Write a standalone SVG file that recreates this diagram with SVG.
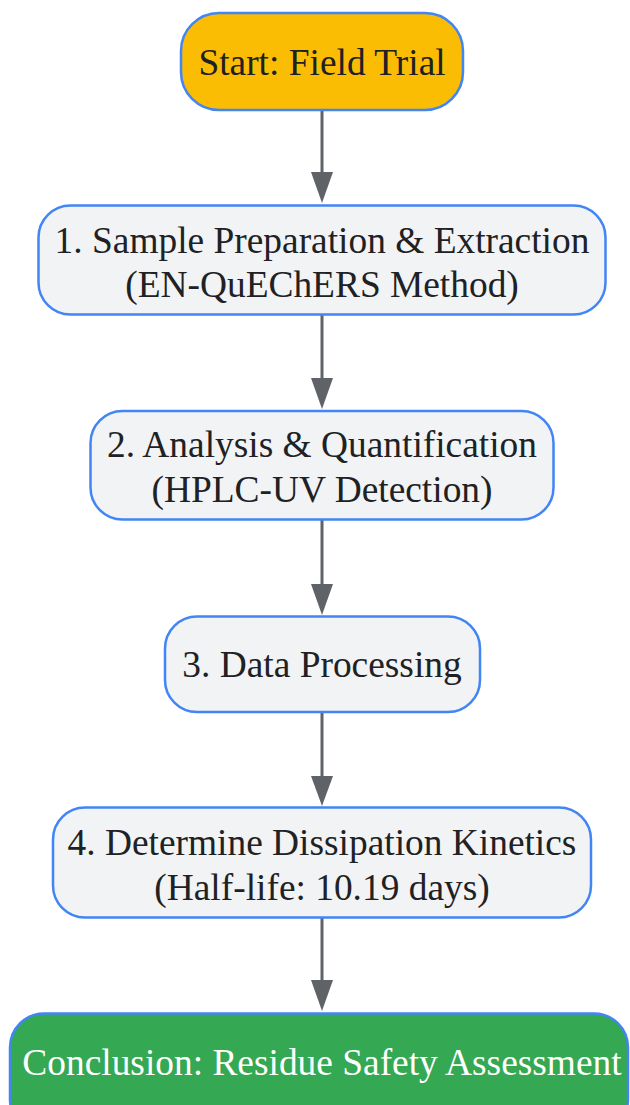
<svg xmlns="http://www.w3.org/2000/svg" width="630" height="1105" viewBox="0 0 630 1105">
<style>
.node rect{stroke:#4285f4;stroke-width:2.5}
.proc rect{fill:#f1f3f4}
.t{font-family:"Liberation Serif","Times New Roman",serif;font-size:37.4px;fill:#202124;text-anchor:middle}
.w{fill:#ffffff}
.edge{stroke:#5f6368;stroke-width:3;fill:none}
.head{fill:#5f6368}
</style>
<rect width="630" height="1105" fill="#ffffff"/>
<g id="connectors">
<line class="edge" x1="322" y1="110" x2="322" y2="174"/>
<path class="head" d="M311,172 L333,172 L322,203 Z"/>
<line class="edge" x1="322" y1="315" x2="322" y2="380"/>
<path class="head" d="M311,378 L333,378 L322,409 Z"/>
<line class="edge" x1="322" y1="520" x2="322" y2="586"/>
<path class="head" d="M311,584 L333,584 L322,615 Z"/>
<line class="edge" x1="322" y1="712" x2="322" y2="778"/>
<path class="head" d="M311,776 L333,776 L322,806 Z"/>
<line class="edge" x1="322" y1="918" x2="322" y2="982"/>
<path class="head" d="M311,980 L333,980 L322,1011 Z"/>
</g>
<g id="start" class="node">
<rect x="181" y="13" width="282" height="97" rx="38" fill="#fbbc04"/>
<text class="t" x="322" y="75">Start: Field Trial</text>
</g>
<g id="step1" class="node proc">
<rect x="38.5" y="205.5" width="567" height="109" rx="32"/>
<text class="t" x="322" y="253">1. Sample Preparation &amp; Extraction</text>
<text class="t" x="322" y="297">(EN-QuEChERS Method)</text>
</g>
<g id="step2" class="node proc">
<rect x="90.5" y="411" width="463" height="108.5" rx="32"/>
<text class="t" x="322" y="457">2. Analysis &amp; Quantification</text>
<text class="t" x="322" y="502">(HPLC-UV Detection)</text>
</g>
<g id="step3" class="node proc">
<rect x="165" y="616.5" width="315" height="95.5" rx="32"/>
<text class="t" x="322" y="677">3. Data Processing</text>
</g>
<g id="step4" class="node proc">
<rect x="53" y="807.5" width="538" height="110" rx="32"/>
<text class="t" x="322" y="855">4. Determine Dissipation Kinetics</text>
<text class="t" x="322" y="900">(Half-life: 10.19 days)</text>
</g>
<g id="conclusion" class="node">
<rect x="10" y="1013.5" width="618" height="120" rx="34" fill="#34a853"/>
<text class="t w" x="322" y="1075">Conclusion: Residue Safety Assessment</text>
</g>
</svg>
